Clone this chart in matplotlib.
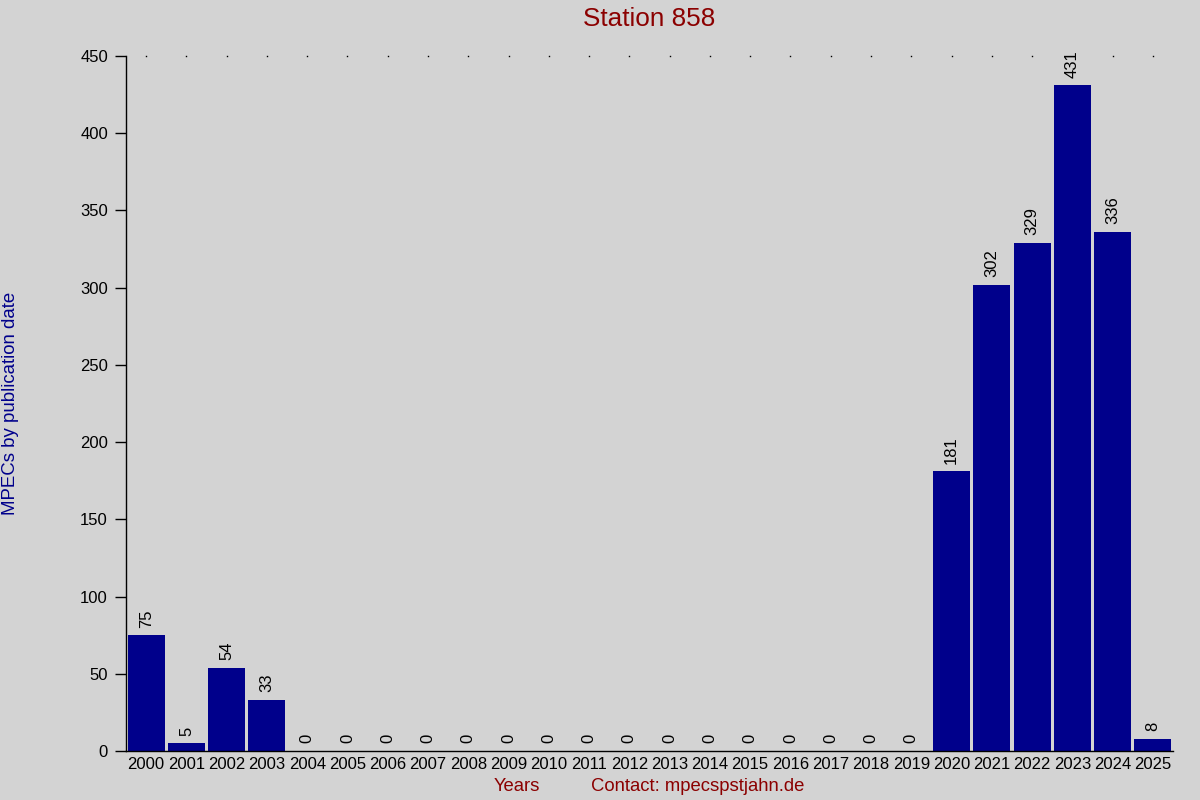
import matplotlib
matplotlib.use("Agg")
import matplotlib.pyplot as plt
import numpy as np

years = [str(y) for y in range(2000, 2026)]
counts = [75, 5, 54, 33, 0, 0, 0, 0, 0, 0, 0, 0, 0, 0, 0, 0, 0, 0, 0, 0,
          181, 302, 329, 431, 336, 8]
yticks = list(range(0, 451, 50))

plt.rcParams['font.family'] = ['Liberation Sans', 'DejaVu Sans']
bg = '#d3d3d3'
fig = plt.figure(figsize=(12, 8), dpi=100, facecolor=bg)
ax = fig.add_axes([0.105, 0.06125, 0.8725, 0.86875], facecolor=bg)

x = np.arange(len(years))
ax.bar(x, counts, width=0.92, color='#00008b')
ax.plot(x, [450] * len(x), linestyle='none', marker='s', markersize=1.0,
        markeredgewidth=0, color='black', clip_on=False, zorder=1)
for xi, c in zip(x, counts):
    ax.annotate(str(c), (xi, c), xytext=(0, 5.5), textcoords='offset points',
                rotation=90, ha='center', va='bottom', fontsize=12, color='black',
                bbox=dict(boxstyle='square,pad=0.05', fc=bg, ec='none') if c > 400 else None,
                zorder=4)

ax.set_xlim(-0.5, len(years) - 0.5)
ax.set_ylim(0, 450)
ax.set_yticks(yticks)
ax.set_xticks(x)
ax.set_xticklabels(years)
ax.tick_params(axis='x', length=0, pad=4, labelsize=12)
ax.tick_params(axis='y', length=8, width=1, pad=5, labelsize=12)
for s in ['top', 'right']:
    ax.spines[s].set_visible(False)
ax.spines['left'].set_linewidth(1)
ax.spines['bottom'].set_linewidth(1)

fig.text(0.541, 0.9765, 'Station 858', ha='center', va='center', fontsize=18.8, color='#8b0000')
fig.text(0.431, 0.017, 'Years', ha='center', va='center', fontsize=13.3, color='#8b0000')
fig.text(0.5815, 0.017, 'Contact: mpecspstjahn.de', ha='center', va='center', fontsize=13.3, color='#8b0000')
fig.text(0.009, 0.4956, 'MPECs by publication date', ha='center', va='center', rotation=90,
         fontsize=13.4, color='#00008b')

fig.savefig('out.png', dpi=100, facecolor=bg)
